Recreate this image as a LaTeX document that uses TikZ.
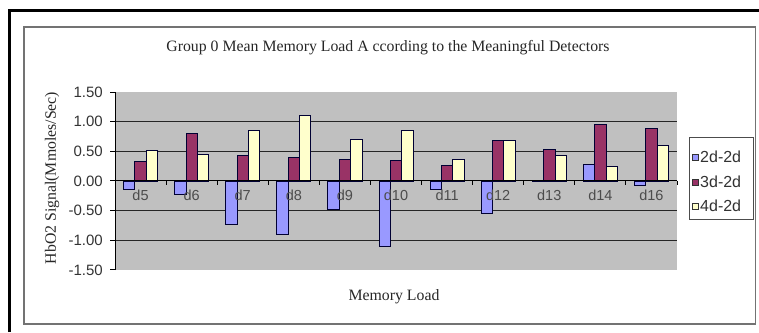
\documentclass[tikz,border=0pt]{standalone}
\usepackage{fontspec}
\setmainfont{Liberation Sans}
\newfontfamily\chartserif{Liberation Serif}
\usepackage{tikz}
\definecolor{plotgray}{HTML}{C0C0C0}
\definecolor{serA}{HTML}{9999FF}
\definecolor{serB}{HTML}{993366}
\definecolor{serC}{HTML}{FFFFCC}
\tikzstyle{bar}=[draw=black!80!blue,line width=0.8]
\tikzstyle{grid line}=[draw=black!85,line width=1]
\tikzstyle{tick label}=[anchor=east,inner sep=0,font=\fontsize{15}{17}\selectfont,text=black!80]
\tikzstyle{cat label}=[inner sep=0,font=\fontsize{14.5}{16}\selectfont,text=black!70]
\tikzstyle{key box}=[draw=black!80,line width=0.6,minimum size=6,inner sep=0]
\tikzstyle{key label}=[anchor=west,inner sep=0,font=\fontsize{16}{18}\selectfont,text=black!80]
\tikzstyle{caption}=[inner sep=0,font=\chartserif\fontsize{15.8}{18}\selectfont,text=black!85]

\begin{document}
\begin{tikzpicture}[x=1pt,y=1pt]
      \useasboundingbox (0,0) rectangle (759,332);
      % outer frame and chart area
      \draw[line width=3] (9.5,0) -- (9.5,321) -- (759,321);
      \draw[draw=black!55,line width=1.5] (24,8) rectangle (755.5,305);
      \fill[plotgray] (115,62) rectangle (677,240);
      % value axis
      \foreach \v in {-1,-0.5,0.5,1}
        \draw[grid line] (115,151+59.3*\v) -- (677,151+59.3*\v);
      \foreach \v/\t in {1.5/1.50,1/1.00,0.5/0.50,0/0.00,-0.5/-0.50,-1/-1.00,-1.5/-1.50} {
        \draw[line width=1] (110,151+59.3*\v) -- (115,151+59.3*\v);
        \node[tick label] at (103,151+59.3*\v) {\t};
      }
      % bars
      \foreach \lab/\a/\b/\c [count=\i from 0] in {
          d5/-0.14/0.33/0.51, d6/-0.22/0.80/0.45, d7/-0.73/0.43/0.85,
          d8/-0.90/0.39/1.10, d9/-0.48/0.37/0.70, d10/-1.10/0.35/0.86,
          d11/-0.15/0.26/0.37, d12/-0.55/0.68/0.68, d13/-0.01/0.54/0.44,
          d14/0.28/0.95/0.24, d16/-0.07/0.89/0.60} {
        \pgfmathsetmacro{\xl}{115+51.09*\i+8.52}
        \draw[bar,fill=serA] (\xl,151) rectangle (\xl+11.35,151+59.3*\a);
        \draw[bar,fill=serB] (\xl+11.35,151) rectangle (\xl+22.7,151+59.3*\b);
        \draw[bar,fill=serC] (\xl+22.7,151) rectangle (\xl+34.05,151+59.3*\c);
        \node[cat label] (cat\i) at (\xl+17.03,137) {\lab};
      }
      % category axis
      \draw[line width=1] (115,151) -- (677,151);
      \foreach \i in {0,...,11}
        \draw[line width=1] (115+51.09*\i,151) -- (115+51.09*\i,146.5);
      \draw[line width=1] (115,62) -- (115,240);
      % legend
      \draw[draw=black!70,line width=1,fill=white] (689,113) rectangle (753,194);
      \node[key box,fill=serA] (kA) at (695,175) {};
      \node[key box,fill=serB] (kB) at (695,150) {};
      \node[key box,fill=serC] (kC) at (695,126) {};
      \node[key label] (lA) at (700,175) {2d-2d};
      \node[key label] (lB) at (700,150) {3d-2d};
      \node[key label] (lC) at (700,126) {4d-2d};
      % titles
      \node[caption] (title) at (388,284) {Group 0 Mean Memory Load A ccording to the Meaningful Detectors};
      \node[caption] (xlab) at (394,35) {Memory Load};
      \node[caption,rotate=90] (ylab) at (52,154) {HbO2 Signal(Mmoles/Sec)};
    \end{tikzpicture}
\end{document}
